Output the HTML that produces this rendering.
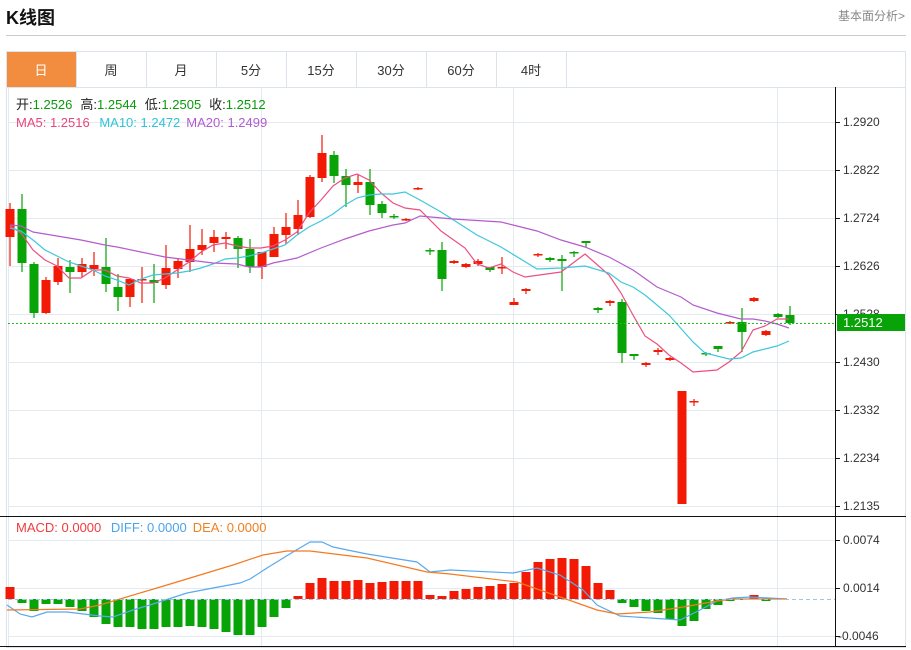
<!DOCTYPE html>
<html><head><meta charset="utf-8">
<style>
body{margin:0;background:#fff;width:911px;height:650px;overflow:hidden;font-family:"Liberation Sans","Noto Sans CJK SC",sans-serif;}
#t{position:absolute;left:6px;top:4px;font-size:18px;font-weight:bold;color:#111;}
#r{position:absolute;left:838px;top:7px;font-size:12px;color:#888;}
svg{position:absolute;left:0;top:0;}
</style></head><body>
<div id="t">K线图</div>
<div id="r">基本面分析&gt;</div>
<svg id="s" width="911" height="650" font-family="Liberation Sans, Noto Sans CJK SC, sans-serif">
<line x1="6" y1="35.5" x2="906" y2="35.5" stroke="#ccc"/>
<rect x="6.5" y="51.5" width="899" height="596" fill="none" stroke="#dde3ea"/>
<line x1="6" y1="87.5" x2="906" y2="87.5" stroke="#dde3ea"/>
<rect x="7" y="52" width="69" height="35" fill="#f28d3f"/>
<g stroke="#dde3ea"><line x1="76.5" y1="52" x2="76.5" y2="87"/><line x1="146.5" y1="52" x2="146.5" y2="87"/><line x1="216.5" y1="52" x2="216.5" y2="87"/><line x1="286.5" y1="52" x2="286.5" y2="87"/><line x1="356.5" y1="52" x2="356.5" y2="87"/><line x1="426.5" y1="52" x2="426.5" y2="87"/><line x1="496.5" y1="52" x2="496.5" y2="87"/><line x1="566.5" y1="52" x2="566.5" y2="87"/></g>
<g font-size="13" text-anchor="middle" fill="#333"><text x="41" y="75" fill="#fff">日</text><text x="111" y="75">周</text><text x="181" y="75">月</text><text x="251" y="75">5分</text><text x="321" y="75">15分</text><text x="391" y="75">30分</text><text x="461" y="75">60分</text><text x="531" y="75">4时</text></g>
<g id="grid" stroke="#e3ebf1"></g>
<g font-size="13"><text x="16" y="109" fill="#222">开:<tspan fill="#0a9a0a">1.2526</tspan><tspan dx="8">高:</tspan><tspan fill="#0a9a0a">1.2544</tspan><tspan dx="8">低:</tspan><tspan fill="#0a9a0a">1.2505</tspan><tspan dx="8">收:</tspan><tspan fill="#0a9a0a">1.2512</tspan></text>
<text x="16" y="127" fill="#e8467c">MA5: 1.2516 <tspan fill="#2fc3d6" dx="6">MA10: 1.2472</tspan><tspan fill="#b25bd0" dx="6">MA20: 1.2499</tspan></text>
<text x="16" y="532" fill="#f03c3c">MACD: 0.0000 <tspan fill="#4aa3ee" dx="6">DIFF: 0.0000</tspan><tspan fill="#f0801e" dx="6">DEA: 0.0000</tspan></text></g>
<g id="c"></g>
<line x1="8" y1="323.5" x2="835" y2="323.5" stroke="#1cbf1c" stroke-dasharray="2,2"/>
<line x1="8" y1="599.5" x2="835" y2="599.5" stroke="#9cc6e6" stroke-dasharray="4,3"/>
<line x1="0" y1="516.5" x2="906" y2="516.5" stroke="#111"/>
<line x1="0" y1="646.5" x2="906" y2="646.5" stroke="#111"/>
<line x1="835.5" y1="87" x2="835.5" y2="647" stroke="#111"/>
<g id="ax" font-size="12" fill="#333"></g>
<rect x="837" y="314" width="68" height="17" fill="#07a307"/>
<text x="843" y="327" font-size="13" fill="#fff">1.2512</text>
</svg>
<script>
var NS="http://www.w3.org/2000/svg",s=document.getElementById('c'),g=document.getElementById('grid'),ax=document.getElementById('ax');
function el(p,t,a){var e=document.createElementNS(NS,t);for(var k in a)e.setAttribute(k,a[k]);p.appendChild(e);return e;}
[122,170,218,266,314,362,410,458,506,540,588,636].forEach(function(y){el(g,'line',{x1:8,x2:835,y1:y+.5,y2:y+.5});el(ax,'line',{x1:835,x2:840,y1:y+.5,y2:y+.5,stroke:'#111'});});
[8,261,513,777].forEach(function(x){el(g,'line',{x1:x+.5,x2:x+.5,y1:88,y2:646});});
[["1.2920",122],["1.2822",170],["1.2724",218],["1.2626",266],["1.2528",314],["1.2430",362],["1.2332",410],["1.2234",458],["1.2135",506],["0.0074",540],["0.0014",588],["-0.0046",636]].forEach(function(a){var t=el(ax,'text',{x:a[0][0]=='-'?838:843,y:a[1]+4});t.textContent=a[0];});
var R='#f21a05',G='#07a307';
var C=[[209,237,203,266,R],[209,263,194,272,G],[264,313,262,318,G],[280,313,277,314,R],[266,282,258,285,R],[267,272,260,293,G],[264,272,258,277,R],[265,269,252,276,R],[267,284,238,292,G],[287,297,274,311,G],[279,297,279,307,R],[279,280,267,303,R],[280,283,264,303,G],[268,285,245,289,R],[261,269,258,278,R],[249,262,225,272,R],[245,250,229,255,R],[237,243,230,252,R],[237,239,232,249,R],[238,249,236,268,G],[249,267,239,273,G],[252,267,252,279,R],[234,257,227,257,R],[227,235,213,244,R],[215,229,200,235,R],[177,217,175,218,R],[153,178,135,182,R],[155,176,151,183,G],[176,185,169,207,G],[182,185,174,193,R],[182,205,169,215,G],[204,213,201,218,G],[216,217,214,219,G],[219,220,218,221,R],[188,189,187,190,R],[250,251,248,255,G],[250,279,242,291,G],[261,263,260,264,R],[264,267,263,268,R],[261,264,259,266,R],[267,270,267,272,G],[267,268,257,274,R],[302,305,298,305,R],[289,291,288,294,R],[254,255,253,257,R],[258,260,257,262,G],[259,261,255,291,G],[252,253,251,257,G],[241,243,241,247,G],[308,310,307,313,G],[301,303,300,306,R],[302,353,299,363,G],[354,356,354,360,G],[363,365,362,367,R],[350,352,348,355,R],[358,360,357,361,R],[391,504,391,504,R],[401,402,399,406,R],[353,354,352,356,G],[346,349,346,352,G],[322,323,321,324,R],[322,332,308,352,G],[298,301,297,302,R],[331,335,330,336,R],[314,317,313,318,G],[315,323,306,325,G]];
C.forEach(function(c,i){var x=10+i*12.0;el(s,'line',{x1:x,x2:x,y1:c[2],y2:c[3],stroke:c[4],'stroke-width':1.2});el(s,'rect',{x:x-4.5,y:c[0],width:9,height:Math.max(1.5,c[1]-c[0]),fill:c[4]});});
function pl(p,col){el(s,'polyline',{points:p.map(function(a){return a.join(',')}).join(' '),fill:'none',stroke:col,'stroke-width':1.2});}
pl([[10,226],[21,233],[33,250],[45,260],[57,266],[69,278],[81,278],[93,270],[105,270],[117,276],[129,278],[141,283],[153,283],[165,278],[177,270],[189,262],[201,252],[213,245],[225,243],[237,246],[249,248],[261,248],[273,246],[285,240],[297,232],[309,213],[321,200],[333,186],[345,178],[357,174],[369,180],[381,193],[393,203],[405,208],[420,210],[441,231],[465,248],[477,264],[489,268],[501,264],[513,272],[525,277],[561,272],[585,254],[609,275],[621,293],[633,315],[645,336],[657,344],[669,355],[681,363],[693,372],[717,370],[729,362],[741,352],[753,330],[765,326],[777,319],[789,319]],'#ec4f80');
pl([[10,228],[21,231],[33,240],[45,250],[57,256],[69,262],[81,266],[93,270],[105,276],[117,280],[129,285],[141,279],[153,275],[165,274],[177,273],[189,271],[201,268],[213,264],[225,259],[237,258],[249,256],[261,253],[273,249],[285,245],[297,235],[309,227],[321,221],[333,214],[345,205],[357,198],[369,195],[381,194],[393,194],[405,192],[420,200],[441,212],[477,235],[501,247],[537,269],[561,268],[585,266],[609,273],[621,282],[633,287],[645,295],[669,315],[693,342],[705,353],[729,359],[741,358],[753,352],[777,346],[789,341]],'#3dc8dc');
pl([[10,225],[21,226],[33,232],[57,236],[81,240],[105,245],[117,247],[141,252],[165,257],[189,260],[213,263],[237,264],[249,267],[261,267],[273,263],[297,258],[321,248],[345,239],[369,231],[393,225],[405,223],[420,216],[453,219],[501,222],[513,225],[537,231],[561,240],[585,247],[609,257],[633,270],[657,287],[681,297],[693,305],[717,313],[741,319],[753,319],[765,321],[777,324],[789,328]],'#b45ccc');
var M=[587,603,611,604,604,607,611,617,624,627,627,629,629,627,627,626,627,629,632,635,635,627,617,608,596,583,578,581,581,580,583,582,581,581,581,595,596,591,589,587,586,584,583,572,562,559,558,559,566,583,590,603,607,611,613,619,626,621,609,605,601,600,595,601,599,599];
M.forEach(function(y,i){var x=10+i*12;var t=Math.min(y,599),h=Math.abs(y-599);if(h<1)return;el(s,'rect',{x:x-4.5,y:t,width:9,height:h,fill:y<599?R:G});});
pl([[7,605],[20,614],[32,617],[47,612],[67,612],[100,616],[113,617],[133,610],[153,604],[187,593],[213,588],[240,583],[250,579],[267,568],[293,552],[310,542],[322,542],[333,547],[367,554],[417,562],[430,572],[450,570],[513,573],[537,568],[560,575],[583,590],[597,605],[620,616],[650,618],[680,620],[700,610],[717,601],[733,598],[750,597],[787,599]],'#5aa9ee');
pl([[7,610],[80,609],[100,605],[120,599],[167,585],[233,565],[263,555],[287,551],[310,551],[367,558],[427,572],[450,574],[517,582],[563,598],[597,610],[617,614],[650,612],[683,607],[717,601],[733,599],[787,599]],'#f37a20');
</script>
</body></html>
